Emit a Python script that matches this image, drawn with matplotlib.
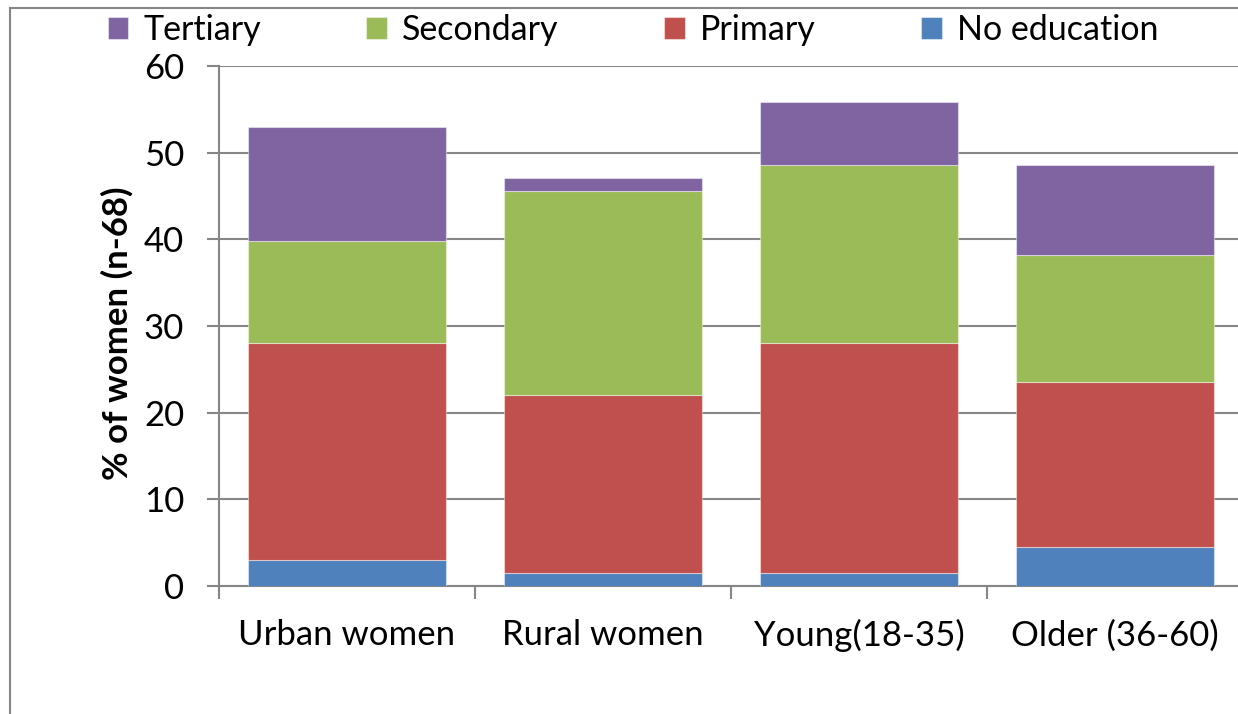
import numpy as np
import matplotlib
matplotlib.use("Agg")
import matplotlib.pyplot as plt
from matplotlib.lines import Line2D

# values (% of women)
groups = ["Urban women", "Rural women", "Young(18-35)", "Older (36-60)"]
no_education = [3.0, 1.5, 1.5, 4.5]
primary = [25.0, 20.5, 26.5, 19.0]
secondary = [11.8, 23.6, 20.6, 14.7]
tertiary = [13.2, 1.5, 7.3, 10.4]

colors = {"No education": "#4F81BD", "Primary": "#C0504D",
          "Secondary": "#9BBB59", "Tertiary": "#8064A2"}
grey = "#868686"

plt.rcParams["font.family"] = ["Lato", "DejaVu Sans"]

W, H = 1238, 714
fig = plt.figure(figsize=(W / 100, H / 100), dpi=100)
ax = fig.add_axes([219 / W, 1 - 586 / H, 1024 / W, 520 / H])

x = np.arange(len(groups))
bottom = np.zeros(len(groups))
bars = {}
for name, vals in [("No education", no_education), ("Primary", primary),
                   ("Secondary", secondary), ("Tertiary", tertiary)]:
    bars[name] = ax.bar(x, vals, width=0.773, bottom=bottom, color=colors[name],
                        edgecolor=(1, 1, 1, 0.45), linewidth=0.8, zorder=3)
    bottom += np.array(vals)

ax.set_xlim(-0.5, 3.5)
ax.set_ylim(0, 60)
ax.set_yticks(range(0, 61, 10))
ax.yaxis.grid(True, color=grey, linewidth=1.5, zorder=0)
ax.set_axisbelow(True)

ax.set_xticks(np.arange(-0.5, 4, 1))
ax.set_xticklabels([])
ax.set_xticks(x, minor=True)
ax.set_xticklabels(groups, minor=True)
ax.tick_params(axis="x", which="major", length=9, width=1.5, color=grey, direction="out")
ax.tick_params(axis="x", which="minor", length=0, pad=24, labelsize=25)
ax.tick_params(axis="y", length=9, width=1.5, color=grey, direction="out", pad=16, labelsize=25)

for s in ["top", "right"]:
    ax.spines[s].set_visible(False)
for s in ["left", "bottom"]:
    ax.spines[s].set_color(grey)
    ax.spines[s].set_linewidth(1.5)

fig.text(117 / W, 1 - 333 / H, "% of women (n-68)", rotation=90, ha="center",
         va="center", fontsize=25, fontweight="bold")

order = ["Tertiary", "Secondary", "Primary", "No education"]
fig.legend([bars[n] for n in order], order, loc="center", ncol=4,
           bbox_to_anchor=(633 / W, 1 - 30 / H), frameon=False, fontsize=24.5,
           handlelength=0.6, handleheight=0.6, handletextpad=0.45,
           columnspacing=3.1, borderpad=0)

# chart-area frame (right and bottom edges fall outside the image)
fig.add_artist(Line2D([10 / W, 10 / W], [0, 1 - 8 / H], color=grey, linewidth=1.5))
fig.add_artist(Line2D([10 / W, 1], [1 - 8 / H, 1 - 8 / H], color=grey, linewidth=1.5))

fig.savefig("out.png", dpi=100)
